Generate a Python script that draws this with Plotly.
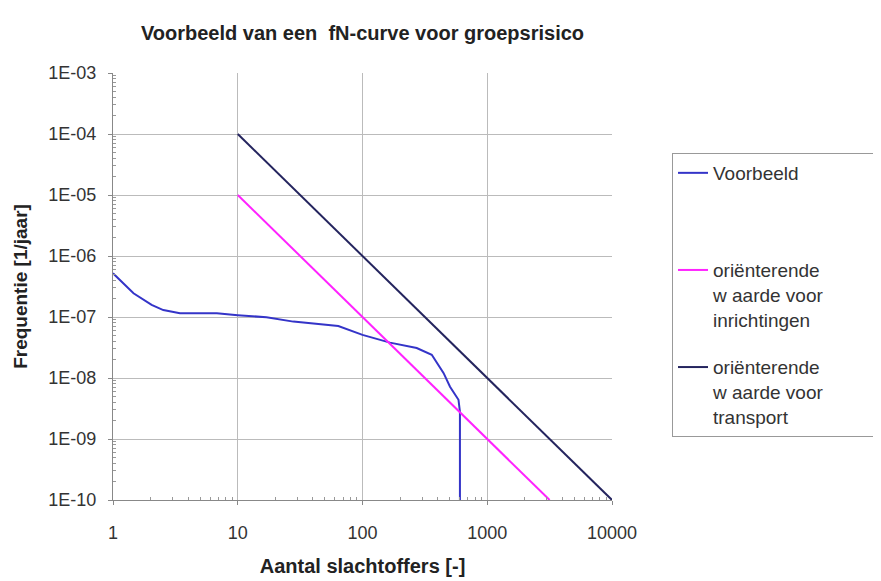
import plotly.graph_objects as go

# --- data ---
voorbeeld_n = [1, 1.46, 2.04, 2.53, 3.44, 6.8, 10, 17, 27.9, 45.7, 64, 100, 166, 272, 359, 447, 503, 588, 604, 604]
voorbeeld_f = [5.2e-7, 2.45e-7, 1.58e-7, 1.3e-7, 1.15e-7, 1.15e-7, 1.07e-7, 9.9e-8, 8.4e-8, 7.6e-8, 7.1e-8,
               5.1e-8, 3.8e-8, 3.1e-8, 2.4e-8, 1.2e-8, 7.2e-9, 4.4e-9, 2.8e-9, 1e-10]
inrichting_n = [10, 100, 1000, 3162]
inrichting_f = [1e-5, 1e-7, 1e-9, 1e-10]
transport_n = [10, 100, 1000, 10000]
transport_f = [1e-4, 1e-6, 1e-8, 1e-10]

x_tickvals = [1, 10, 100, 1000, 10000]
x_ticktext = ["1", "10", "100", "1000", "10000"]
y_tickvals = [1e-10, 1e-9, 1e-8, 1e-7, 1e-6, 1e-5, 1e-4, 1e-3]
y_ticktext = ["1E-10", "1E-09", "1E-08", "1E-07", "1E-06", "1E-05", "1E-04", "1E-03"]

x_minor = [m * 10 ** e for e in range(0, 4) for m in range(2, 10)]
y_minor = [m * 10.0 ** e for e in range(-10, -3) for m in range(2, 10)]

FONT = "Liberation Sans, Arial, sans-serif"
PAD = "&nbsp;" * 11

fig = go.Figure()
fig.add_trace(go.Scatter(x=voorbeeld_n, y=voorbeeld_f, mode="lines", name="Voorbeeld<br> <br> ",
                         legendgroup="a", line=dict(color="#3434c8", width=2)))
fig.add_trace(go.Scatter(x=inrichting_n, y=inrichting_f, mode="lines",
                         name="oriënterende" + PAD + "<br>w aarde voor<br>inrichtingen",
                         legendgroup="b", line=dict(color="#ff22ff", width=2)))
fig.add_trace(go.Scatter(x=transport_n, y=transport_f, mode="lines",
                         name="oriënterende<br>w aarde voor<br>transport",
                         legendgroup="c", line=dict(color="#24245e", width=2)))

fig.update_layout(
    width=873, height=573,
    margin=dict(l=105, r=269, t=65, b=81, autoexpand=False),
    paper_bgcolor="white", plot_bgcolor="white",
    font=dict(family=FONT, color="#333333", size=18),
    title=dict(text="<b>Voorbeeld van een  fN-curve voor groepsrisico</b>",
               x=0.5, xref="paper", xanchor="center", y=1 - 25 / 573, yanchor="middle",
               font=dict(size=20, color="#222222")),
    legend=dict(x=664 / 873, y=1 - 145 / 573, xref="container", yref="container",
                xanchor="left", yanchor="top",
                bordercolor="#999999", borderwidth=1, bgcolor="white",
                font=dict(size=19, color="#333333"), valign="top",
                traceorder="grouped", tracegroupgap=20),
    showlegend=True,
)

fig.update_xaxes(
    type="log", range=[0, 4],
    tickvals=x_tickvals, ticktext=x_ticktext,
    showgrid=True, gridcolor="#bbbbbb", gridwidth=1,
    showline=True, linecolor="#888888", linewidth=1,
    ticks="outside", ticklen=4, tickcolor="#888888",
    minor=dict(tickvals=x_minor, ticks="inside", ticklen=3, tickcolor="#999999", showgrid=False),
    ticklabelstandoff=12, automargin=False,
    zeroline=False, mirror=False,
    title=dict(text="<b>Aantal slachtoffers [-]</b>", standoff=17, font=dict(size=20, color="#222222")),
)
fig.update_yaxes(
    type="log", range=[-10, -3],
    tickvals=y_tickvals, ticktext=y_ticktext,
    showgrid=True, gridcolor="#bbbbbb", gridwidth=1,
    showline=True, linecolor="#888888", linewidth=1,
    ticks="outside", ticklen=4, tickcolor="#888888",
    minor=dict(tickvals=y_minor, ticks="inside", ticklen=3, tickcolor="#999999", showgrid=False),
    ticklabelstandoff=8, automargin=False,
    zeroline=False,
    title=dict(text="<b>Frequentie [1/jaar]</b>", standoff=15, font=dict(size=19, color="#222222")),
)

fig.write_html("out.html")
